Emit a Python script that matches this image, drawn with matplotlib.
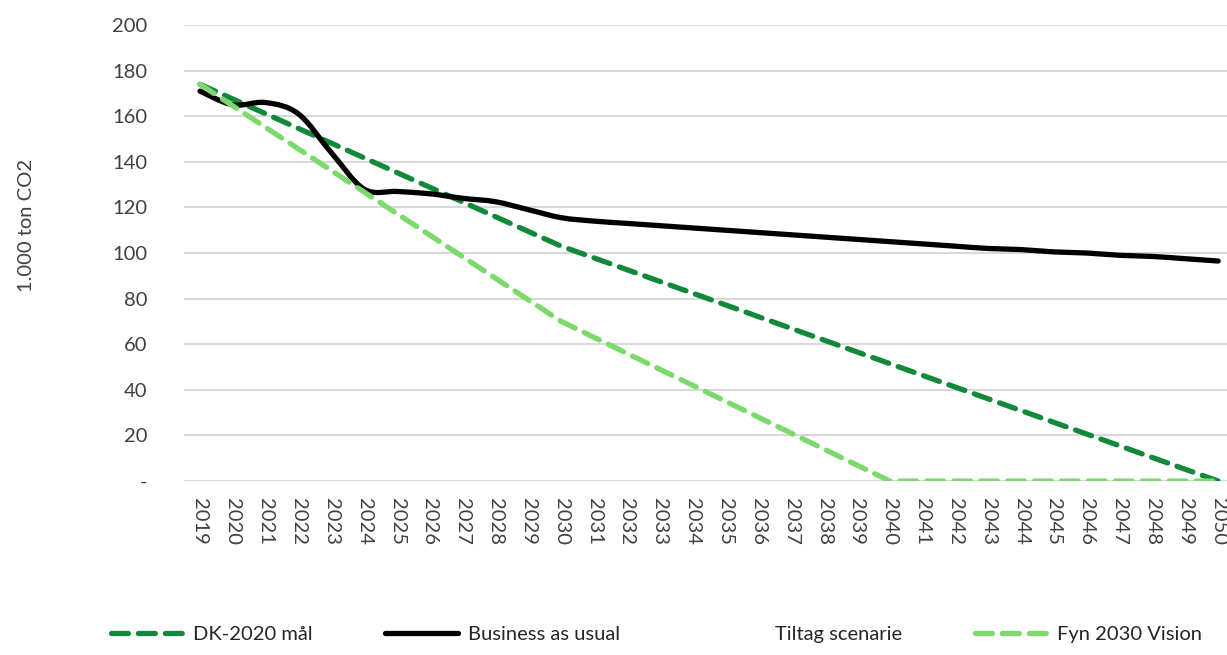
import numpy as np
import matplotlib.pyplot as plt
from matplotlib.path import Path
from matplotlib.patches import PathPatch
from matplotlib.lines import Line2D

plt.rcParams['font.family'] = ['Lato', 'DejaVu Sans']

# år på x-aksen
years = list(range(2019, 2051))

# DK-2020 mål (knækpunkter)
dk_years = [2019, 2030, 2050]
dk_vals = [174, 103, 0]

# Fyn 2030 Vision (knækpunkter)
fyn_years = [2019, 2030, 2040, 2050]
fyn_vals = [174, 70, 0, 0]

# Business as usual, 1.000 ton CO2 pr. år
bau_vals = [171, 165, 166, 161, 144, 128, 127, 126, 124, 122.5, 119, 115.5,
            114, 113, 112, 111, 110, 109, 108, 107, 106, 105,
            104, 103, 102, 101.5, 100.5, 100, 99, 98.5, 97.5, 96.5]

c_dk = '#12893a'
c_fyn = '#7cd96c'


# glattet linje som i Excel (Bezier gennem punkterne)
def glat_sti(x, y):
    p = np.column_stack([x, y]).astype(float)
    n = len(p)
    verts = [p[0]]
    codes = [Path.MOVETO]
    for i in range(n - 1):
        p0 = p[i - 1] if i > 0 else p[i]
        p1 = p[i]
        p2 = p[i + 1]
        p3 = p[i + 2] if i + 2 < n else p[i + 1]
        c1 = p1 + (p2 - p0) / 6
        c2 = p2 - (p3 - p1) / 6
        verts += [c1, c2, p2]
        codes += [Path.CURVE4] * 3
    return Path(verts, codes)


fig = plt.figure(figsize=(12.27, 6.55), dpi=100)
ax = fig.add_axes([0.1496, 0.2656, 0.8504, 0.6962])

ax.plot(dk_years, dk_vals, color=c_dk, lw=3.8, ls=(0, (3.2, 1.9)),
        dash_capstyle='round', zorder=3)
ax.add_patch(PathPatch(glat_sti(years, bau_vals), fill=False, ec='black',
                       lw=3.8, capstyle='round', zorder=4))
ax.plot(fyn_years, fyn_vals, color=c_fyn, lw=3.8, ls=(0, (3.2, 1.9)),
        dash_capstyle='round', zorder=5)

ax.set_xlim(2018.5, 2050.27)
ax.set_ylim(0, 200)
ax.set_xticks(years)
ax.set_xticklabels([str(y) for y in years], rotation=-90, fontsize=14.5,
                   color='#404040')
ax.set_yticks(range(0, 201, 20))
ax.set_yticklabels(['-'] + [str(v) for v in range(20, 201, 20)], fontsize=14.5,
                   color='#404040')
ax.tick_params(axis='y', length=0, pad=26)
ax.tick_params(axis='x', length=0, pad=12)
ax.grid(axis='y', color='#d9d9d9', lw=1.5)
ax.set_axisbelow(True)
for s in ax.spines.values():
    s.set_visible(False)

fig.text(0.022, 0.656, '1.000 ton CO2', rotation=90, ha='center', va='center',
         fontsize=14.5, color='#404040')

# forklaring nederst
handles = [
    Line2D([], [], color=c_dk, lw=3.8, ls=(0, (3.2, 1.9)), dash_capstyle='round'),
    Line2D([], [], color='black', lw=3.8, solid_capstyle='round'),
    Line2D([], [], color='none', lw=3.8),
    Line2D([], [], color=c_fyn, lw=3.8, ls=(0, (3.2, 1.9)), dash_capstyle='round'),
]
labels = ['DK-2020 mål', 'Business as usual', 'Tiltag scenarie', 'Fyn 2030 Vision']
fig.legend(handles, labels, loc='lower center', bbox_to_anchor=(0.535, -0.01),
           ncol=4, frameon=False, fontsize=14.5, handlelength=3.6,
           handletextpad=0.5, columnspacing=3.6, labelcolor='#262626')

fig.savefig('out.png', dpi=100, facecolor='white')
